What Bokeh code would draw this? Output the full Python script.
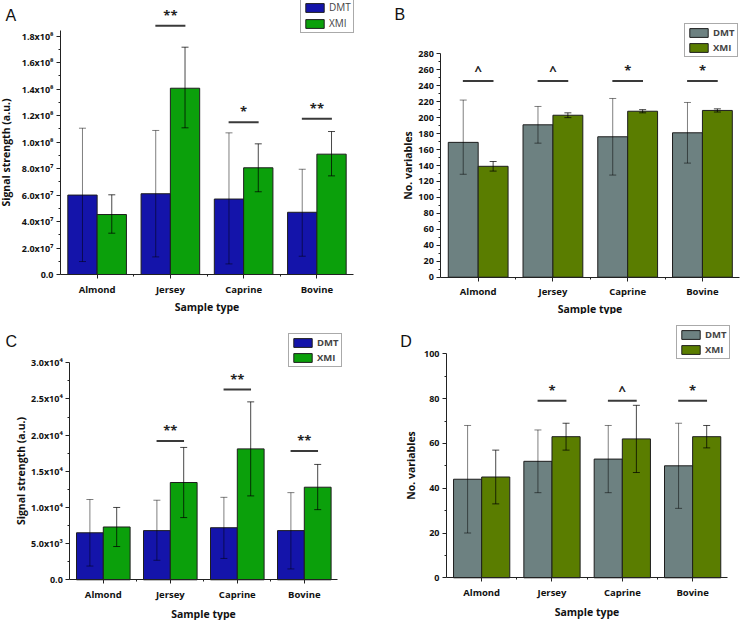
from bokeh.plotting import figure
from bokeh.models import ColumnDataSource, FixedTicker, Label, Range1d
from bokeh.transform import dodge
from bokeh.layouts import column, row
from bokeh.embed import file_html
from bokeh.resources import INLINE
from bokeh.core.properties import value

FONT = "Open Sans"

categories = ["Almond", "Jersey", "Caprine", "Bovine"]
series_names = ["DMT", "XMI"]

# ---- Panel A : signal strength (a.u.) ----
a_dmt = [6.0e7, 6.1e7, 5.7e7, 4.7e7]
a_dmt_lo = [0.98e7, 1.33e7, 0.8e7, 1.38e7]
a_dmt_hi = [1.105e8, 1.088e8, 1.07e8, 7.95e7]
a_xmi = [4.53e7, 1.407e8, 8.06e7, 9.09e7]
a_xmi_lo = [3.12e7, 1.108e8, 6.25e7, 7.45e7]
a_xmi_hi = [6.02e7, 1.717e8, 9.87e7, 1.08e8]
a_sig_cats = ["Jersey", "Caprine", "Bovine"]
a_sig_labels = ["**", "*", "**"]
a_sig_y = [1.878e8, 1.15e8, 1.176e8]
a_ticks = [0, 2e7, 4e7, 6e7, 8e7, 1e8, 1.2e8, 1.4e8, 1.6e8, 1.8e8]
a_tick_labels = ["0.0", "2.0x10\u2077", "4.0x10\u2077", "6.0x10\u2077", "8.0x10\u2077",
                 "1.0x10\u2078", "1.2x10\u2078", "1.4x10\u2078", "1.6x10\u2078", "1.8x10\u2078"]
a_minor = [1e7, 3e7, 5e7, 7e7, 9e7, 1.1e8, 1.3e8, 1.5e8, 1.7e8]

# ---- Panel B : number of variables ----
b_dmt = [169, 191, 176, 181]
b_dmt_lo = [129, 168, 128, 143]
b_dmt_hi = [222, 214, 224, 219]
b_xmi = [139, 203, 208, 209]
b_xmi_lo = [133, 200, 206, 207]
b_xmi_hi = [145, 206, 210, 211]
b_sig_cats = ["Almond", "Jersey", "Caprine", "Bovine"]
b_sig_labels = ["^", "^", "*", "*"]
b_sig_y = [246, 246, 246, 246]
b_ticks = list(range(0, 281, 20))
b_tick_labels = [str(t) for t in b_ticks]
b_minor = list(range(10, 280, 20))

# ---- Panel C : signal strength (a.u.) ----
c_dmt = [6.5e3, 6.8e3, 7.2e3, 6.8e3]
c_dmt_lo = [1.9e3, 2.7e3, 2.95e3, 1.5e3]
c_dmt_hi = [11.1e3, 11.0e3, 11.4e3, 12.05e3]
c_xmi = [7.3e3, 13.45e3, 18.1e3, 12.8e3]
c_xmi_lo = [4.6e3, 8.6e3, 11.6e3, 9.7e3]
c_xmi_hi = [10.0e3, 18.3e3, 24.6e3, 15.95e3]
c_sig_cats = ["Jersey", "Caprine", "Bovine"]
c_sig_labels = ["**", "**", "**"]
c_sig_y = [19.2e3, 26.3e3, 17.8e3]
c_ticks = [0, 5e3, 1e4, 1.5e4, 2e4, 2.5e4, 3e4]
c_tick_labels = ["0.0", "5.0x10\u00b3", "1.0x10\u2074", "1.5x10\u2074", "2.0x10\u2074",
                 "2.5x10\u2074", "3.0x10\u2074"]
c_minor = [2.5e3, 7.5e3, 1.25e4, 1.75e4, 2.25e4, 2.75e4]

# ---- Panel D : number of variables ----
d_dmt = [44, 52, 53, 50]
d_dmt_lo = [20, 38, 38, 31]
d_dmt_hi = [68, 66, 68, 69]
d_xmi = [45, 63, 62, 63]
d_xmi_lo = [33, 57, 47, 58]
d_xmi_hi = [57, 69, 77, 68]
d_sig_cats = ["Jersey", "Caprine", "Bovine"]
d_sig_labels = ["*", "^", "*"]
d_sig_y = [79, 79, 79]
d_ticks = [0, 20, 40, 60, 80, 100]
d_tick_labels = [str(t) for t in d_ticks]
d_minor = [10, 30, 50, 70, 90]


def panel(letter, dmt, dmt_lo, dmt_hi, xmi, xmi_lo, xmi_hi, sig_cats, sig_labels, sig_y,
          ticks, tick_labels, minor, ylabel, colors, geom, legend_style):
    # geom: figure size and pixel placement of the axes (layout/style only)
    W, H = geom["W"], geom["H"]
    ax, ar, y0p, tp = geom["ax"], geom["ar"], geom["y0"], geom["top_px"]
    top_val = ticks[-1]
    n = len(categories)
    u = (ar - ax) / n
    x_start = -0.5 - ax / u
    x_end = n - 0.5 + (W - ar) / u
    s = (y0p - tp) / top_val
    y_start = -(H - y0p) / s
    y_end = y0p / s

    p = figure(x_range=Range1d(x_start, x_end), y_range=Range1d(y_start, y_end),
               width=W, height=H, output_backend="svg", toolbar_location=None,
               min_border=0)
    p.outline_line_color = None
    p.xgrid.visible = False
    p.ygrid.visible = False

    xi = list(range(n))
    src = ColumnDataSource(dict(x=xi, dmt=dmt, dmt_lo=dmt_lo, dmt_hi=dmt_hi,
                                xmi=xmi, xmi_lo=xmi_lo, xmi_hi=xmi_hi))
    xd = dodge("x", -0.2)
    xx = dodge("x", 0.2)
    p.vbar(x=xd, top="dmt", width=0.4, source=src, fill_color=colors[0],
           line_color="#1e1e1e", line_width=1, legend_label=series_names[0])
    p.vbar(x=xx, top="xmi", width=0.4, source=src, fill_color=colors[1],
           line_color="#1e1e1e", line_width=1, legend_label=series_names[1])
    for xpos, lo, hi, alpha in ((xd, "dmt_lo", "dmt_hi", 0.5), (xx, "xmi_lo", "xmi_hi", 0.72)):
        p.segment(x0=xpos, x1=xpos, y0=lo, y1=hi, source=src, line_color="black",
                  line_alpha=alpha, line_width=1)
        p.scatter(x=xpos, y=hi, source=src, marker="dash", size=7, line_color="black",
                  line_alpha=alpha, line_width=1)
        p.scatter(x=xpos, y=lo, source=src, marker="dash", size=7, line_color="black",
                  line_alpha=alpha, line_width=1)

    # significance markers
    sx = [categories.index(c) for c in sig_cats]
    ssrc = ColumnDataSource(dict(x=sx, lab=sig_labels, y=sig_y))
    p.segment(x0=dodge("x", -0.205), x1=dodge("x", 0.205), y0="y", y1="y", source=ssrc,
              line_color="#3a3a3a", line_width=2)
    p.text(x="x", y="y", text="lab", source=ssrc, text_align="center", text_baseline="bottom",
           text_font=value(FONT), text_font_style="bold", text_font_size="13px",
           text_color="#222222", y_offset=-2)

    # axes drawn at fixed locations inside the full-size frame
    xa, ya = p.xaxis[0], p.yaxis[0]
    for a in (xa, ya):
        a.axis_line_color = "#222222"
        a.axis_line_width = 1
        a.major_tick_line_color = "#222222"
        a.minor_tick_line_color = "#222222"
        a.major_tick_in = 0
        a.major_tick_out = 4
        a.minor_tick_in = 0
        a.minor_tick_out = 2
        a.major_label_text_font = FONT
        a.major_label_text_font_style = "bold"
        a.major_label_text_color = "#111111"
        a.axis_label_text_font = FONT
        a.axis_label_text_font_style = "bold"
        a.axis_label_text_font_size = "10.5px"
        a.axis_label_text_color = "#111111"
    xa.fixed_location = 0
    xa.bounds = (-0.5, n - 0.5)
    xa.ticker = FixedTicker(ticks=xi, minor_ticks=[i + 0.5 for i in xi[:-1]])
    xa.major_label_overrides = {i: c for i, c in zip(xi, categories)}
    xa.major_label_text_font_size = "9.5px"
    xa.major_label_standoff = 4
    xa.axis_label = "Sample type"
    xa.axis_label_standoff = geom["xt_std"]
    ya.fixed_location = -0.5
    ya.bounds = (0, geom.get("ybound", top_val))
    ya.ticker = FixedTicker(ticks=ticks, minor_ticks=minor)
    ya.major_label_overrides = {t: l for t, l in zip(ticks, tick_labels)}
    ya.major_label_text_font_size = "9px"
    ya.major_label_standoff = 3
    ya.axis_label = ylabel
    ya.axis_label_standoff = geom["yt_std"]

    leg = p.legend[0]
    lx, ltop = geom["leg"]
    leg.location = (lx, H - ltop - 29)
    leg.border_line_color = "#555555"
    leg.border_line_width = 1
    leg.background_fill_color = "white"
    leg.background_fill_alpha = 1
    leg.padding = 2
    leg.spacing = 2
    leg.margin = 0
    leg.glyph_width = 23
    leg.glyph_height = 11
    leg.label_height = 11
    leg.label_standoff = 3
    leg.label_text_font = FONT
    leg.label_text_font_size = legend_style[0]
    leg.label_text_font_style = legend_style[1]

    ltx, lty = geom["letter"]
    p.add_layout(Label(x=ltx, y=H - lty, x_units="screen", y_units="screen", text=letter,
                       text_font="Liberation Sans", text_font_size="16px", text_baseline="top",
                       text_color="#111111"))
    return p


blue_green = ("#1414aa", "#0ba00b")
grey_olive = ("#6d8181", "#5a7d00")

pa = panel("A", a_dmt, a_dmt_lo, a_dmt_hi, a_xmi, a_xmi_lo, a_xmi_hi, a_sig_cats, a_sig_labels,
           a_sig_y, a_ticks, a_tick_labels, a_minor, "Signal strength (a.u.)", blue_green,
           dict(W=368, H=314, ax=60, ar=353, y0=274, top_px=35.7, ybound=1.84e8,
                xt_std=1, yt_std=6, leg=(300, 4), letter=(5, 6)), ("10px", "normal"))
pb = panel("B", b_dmt, b_dmt_lo, b_dmt_hi, b_xmi, b_xmi_lo, b_xmi_hi, b_sig_cats, b_sig_labels,
           b_sig_y, b_ticks, b_tick_labels, b_minor, "No. variables", grey_olive,
           dict(W=374, H=314, ax=72.3, ar=371.3, y0=276.7, top_px=53.3,
                xt_std=0, yt_std=0, leg=(316, 28), letter=(26, 5)), ("9.5px", "bold"))
pc = panel("C", c_dmt, c_dmt_lo, c_dmt_hi, c_xmi, c_xmi_lo, c_xmi_hi, c_sig_cats, c_sig_labels,
           c_sig_y, c_ticks, c_tick_labels, c_minor, "Signal strength (a.u.)", blue_green,
           dict(W=368, H=306, ax=69.3, ar=337.3, y0=265.3, top_px=48.3,
                xt_std=3, yt_std=0, leg=(288, 24), letter=(5, 18)), ("9.5px", "bold"))
pd_ = panel("D", d_dmt, d_dmt_lo, d_dmt_hi, d_xmi, d_xmi_lo, d_xmi_hi, d_sig_cats, d_sig_labels,
            d_sig_y, d_ticks, d_tick_labels, d_minor, "No. variables", grey_olive,
            dict(W=374, H=306, ax=78, ar=359.3, y0=263.3, top_px=39.3,
                 xt_std=3, yt_std=3, leg=(308, 16), letter=(31.7, 18)), ("9.5px", "bold"))

layout = column(row(pa, pb), row(pc, pd_))
open("out.html", "w").write(file_html(layout, INLINE))
